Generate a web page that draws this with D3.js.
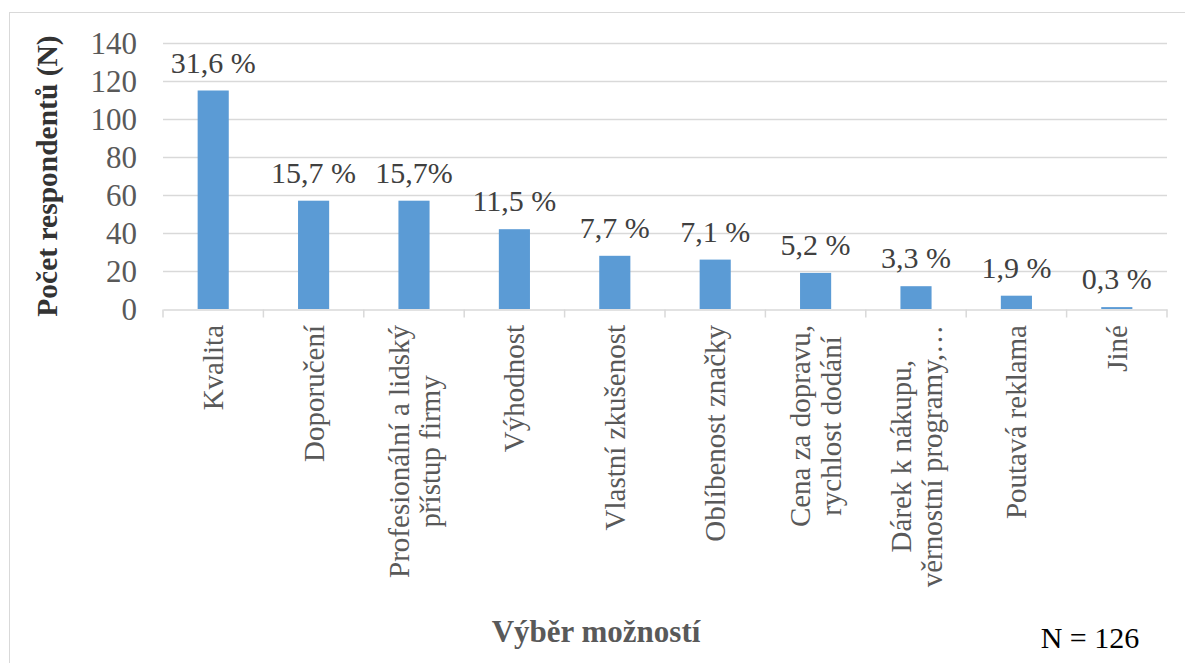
<!DOCTYPE html>
<head>
  <meta charset="utf-8">
  <script src="https://d3js.org/d3.v7.min.js"></script>
  <style>
    body { margin: 0; background: #fff; }
    text { font-family: "Liberation Serif", "Times New Roman", serif; }
  </style>
</head>
<body>
  <script>

  // categories (each entry = lines of the wrapped label)
  var categories = [
    ["Kvalita"],
    ["Doporučení"],
    ["Profesionální a lidský", "přístup firmy"],
    ["Výhodnost"],
    ["Vlastní zkušenost"],
    ["Oblíbenost značky"],
    ["Cena za dopravu,", "rychlost dodání"],
    ["Dárek k nákupu,", "věrnostní programy,…"],
    ["Poutavá reklama"],
    ["Jiné"]
  ];
  var values = [115, 57, 57, 42, 28, 26, 19, 12, 7, 1];
  var percentLabels = ["31,6 %", "15,7 %", "15,7%", "11,5 %", "7,7 %", "7,1 %", "5,2 %", "3,3 %", "1,9 %", "0,3 %"];
  var yTicks = [0, 20, 40, 60, 80, 100, 120, 140];

  var width = 1185,
      height = 663;

  var svg = d3.select("body").append("svg")
      .attr("width", width)
      .attr("height", height);

  // outer chart border
  svg.append("rect")
      .attr("x", 9.5).attr("y", 12.5)
      .attr("width", 1300).attr("height", 800)
      .attr("fill", "none")
      .attr("stroke", "#d9d9d9");

  var x = d3.scaleBand()
      .domain(d3.range(categories.length))
      .range([163, 1167])
      .paddingInner(0);

  var y = d3.scaleLinear()
      .domain([0, 140])
      .range([309, 43]);

  // gridlines
  svg.append("g")
    .selectAll("line")
    .data(yTicks.slice(1))
    .enter().append("line")
      .attr("x1", 163).attr("x2", 1167)
      .attr("y1", function(d) { return Math.round(y(d)) + 0.5; })
      .attr("y2", function(d) { return Math.round(y(d)) + 0.5; })
      .attr("stroke", "#d9d9d9")
      .attr("stroke-width", 1.5);

  // y tick labels
  svg.append("g")
    .selectAll("text")
    .data(yTicks)
    .enter().append("text")
      .attr("x", 137)
      .attr("y", function(d) { return y(d); })
      .attr("dy", "0.34em")
      .attr("text-anchor", "end")
      .attr("font-size", 31)
      .attr("fill", "#595959")
      .text(function(d) { return d; });

  // bars
  var bw = x.bandwidth() * 0.31;
  svg.append("g")
    .selectAll("rect")
    .data(values)
    .enter().append("rect")
      .attr("x", function(d, i) { return x(i) + (x.bandwidth() - bw) / 2; })
      .attr("y", function(d) { return y(d); })
      .attr("width", bw)
      .attr("height", function(d) { return y(0) - y(d); })
      .attr("fill", "#5b9bd5");

  // x axis line + ticks
  var xAxis = d3.axisBottom(x).tickSize(0).tickFormat("");
  var gx = svg.append("g")
      .attr("transform", "translate(0," + (y(0) + 0.5) + ")")
      .call(xAxis);
  gx.select(".domain").attr("stroke", "#d9d9d9").attr("stroke-width", 1.5);
  gx.selectAll(".tick").remove();
  gx.selectAll("line.sep")
    .data(d3.range(categories.length + 1))
    .enter().append("line")
      .attr("class", "sep")
      .attr("x1", function(i) { return 163 + i * x.step(); })
      .attr("x2", function(i) { return 163 + i * x.step(); })
      .attr("y1", 0).attr("y2", 8)
      .attr("stroke", "#d9d9d9")
      .attr("stroke-width", 1.5);

  // percent labels
  svg.append("g")
    .selectAll("text")
    .data(values)
    .enter().append("text")
      .attr("x", function(d, i) { return x(i) + x.bandwidth() / 2; })
      .attr("y", function(d) { return y(d) - 18; })
      .attr("text-anchor", "middle")
      .attr("font-size", 30)
      .attr("fill", "#404040")
      .text(function(d, i) { return percentLabels[i]; });

  // category labels, rotated, lines centred within block
  var lineH = 31;
  categories.forEach(function(lines, i) {
    var cx = x(i) + x.bandwidth() / 2;
    var g = svg.append("g");
    var texts = lines.map(function(l, j) {
      return g.append("text")
        .attr("font-size", 29)
        .attr("fill", "#595959")
        .attr("text-anchor", "middle")
        .text(l);
    });
    var maxLen = d3.max(texts, function(t) { return t.node().getComputedTextLength(); });
    var cy = 325 + maxLen / 2;
    texts.forEach(function(t, j) {
      var bx = cx + 10 + (j - (lines.length - 1) / 2) * lineH;
      t.attr("transform", "translate(" + bx + "," + cy + ") rotate(-90)");
    });
  });

  // axis titles
  svg.append("text")
      .attr("transform", "translate(57,176) rotate(-90)")
      .attr("text-anchor", "middle")
      .attr("font-size", 29.5)
      .attr("font-weight", "bold")
      .attr("fill", "#333333")
      .text("Počet respondentů (N)");

  svg.append("text")
      .attr("x", 596)
      .attr("y", 642)
      .attr("text-anchor", "middle")
      .attr("font-size", 31)
      .attr("font-weight", "bold")
      .attr("fill", "#595959")
      .text("Výběr možností");

  svg.append("text")
      .attr("x", 1090)
      .attr("y", 648)
      .attr("text-anchor", "middle")
      .attr("font-size", 30)
      .attr("fill", "#000")
      .text("N = 126");

  </script>
</body>
